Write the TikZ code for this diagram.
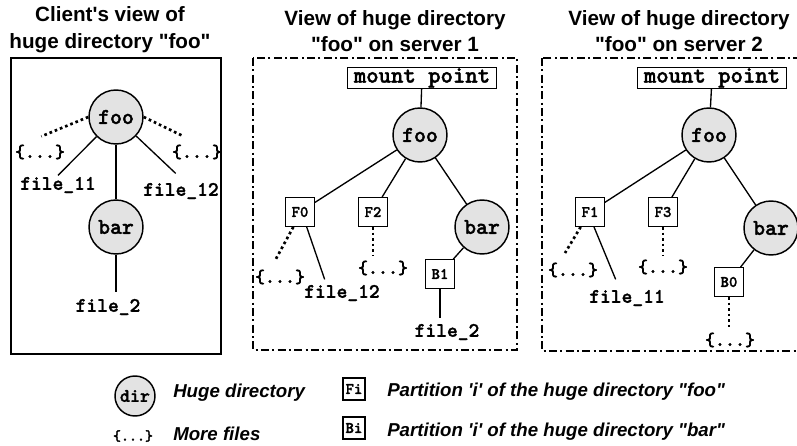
\documentclass[tikz,border=0pt]{standalone}
\usepackage{fontspec}
\setmainfont{Liberation Sans}
\newfontfamily\cour{lmmonolt10-bold.otf}[FakeBold=1.6]
\usetikzlibrary{calc}
\tikzset{
  dirnode/.style={circle, draw, line width=1.1pt, fill=black!11, minimum size=40.5pt, inner sep=0pt, font=\cour\fontsize{17}{17}\selectfont},
  partbox/.style={rectangle, draw, line width=0.9pt, fill=white, minimum size=21.5pt, inner sep=0pt, font=\cour\fontsize{12}{12}\selectfont},
  mpbox/.style={rectangle, draw, line width=1.1pt, minimum width=111.75pt, minimum height=15.5pt, inner sep=0pt, font=\cour\fontsize{17.7}{17.7}\selectfont},
  fname/.style={inner sep=1pt, font=\cour\fontsize{15.4}{15.4}\selectfont},
  morefiles/.style={inner sep=1pt, font=\cour\fontsize{14.3}{14.3}\selectfont},
  edge/.style={line width=1pt},
  dotedge/.style={line width=2pt, dash pattern=on 2pt off 2.2pt},
  paneltitle/.style={align=center, inner sep=0pt, font=\bfseries\fontsize{15.5}{20}\selectfont},
  solidpanel/.style={draw, line width=1.4pt},
  dashpanel/.style={draw, line width=1.2pt, dash pattern=on 6pt off 2.5pt on 1.5pt off 2.5pt},
  legtext/.style={anchor=west, inner sep=0pt, font=\bfseries\itshape\fontsize{14}{14}\selectfont},
}
\begin{document}
\begin{tikzpicture}[x=0.75pt, y=-0.75pt]
\useasboundingbox (0,0) rectangle (797,446);
\clip (0,0) rectangle (797,446);
\fill[white] (0,0) rectangle (797,446);

% ---------- panel 1 ----------
\node[paneltitle] (t1) at (110,30) {Client\textquotesingle s view of\\huge directory \textquotedbl foo\textquotedbl};
\path[solidpanel] (11,58) rectangle (221,354);
\node[dirnode] (foo1) at (116,117) {foo};
\node[dirnode] (bar1) at (116,227) {bar};
\node[morefiles] (m1a) at (40,152) {\{...\}};
\node[morefiles] (m1b) at (197,152) {\{...\}};
\node[fname] (f11) at (58,185) {file\_11};
\node[fname] (f12) at (181,191) {file\_12};
\node[fname] (f2a) at (108,307) {file\_2};
\draw[dotedge] (foo1.west) -- ([yshift=5pt,xshift=1pt]m1a.north);
\draw[dotedge] (foo1.east) -- ([yshift=5pt,xshift=-10pt]m1b.north);
\draw[edge] (foo1) -- (f11.north);
\draw[edge] (foo1) -- ([yshift=6pt,xshift=-4pt]f12.north);
\draw[edge] (foo1) -- (bar1);
\draw[edge] (bar1) -- ($(bar1 |- f2a.north)+(0,-5)$);

% ---------- panel 2 ----------
\node[paneltitle] (t2) at (395,31) {View of huge directory\\\textquotedbl foo\textquotedbl\ on server 1};
\path[dashpanel] (253,58) rectangle (517,350);
\node[mpbox] (mp2) at (422,78) {mount point};
\node[dirnode] (foo2) at (420,135) {foo};
\node[partbox] (F0) at (300,212) {F0};
\node[partbox] (F2) at (373,212) {F2};
\node[dirnode] (bar2) at (482,227) {bar};
\node[partbox] (B1) at (440,274) {B1};
\node[morefiles] (m2a) at (280,277) {\{...\}};
\node[fname] (fl12) at (342,293) {file\_12};
\node[morefiles] (m2b) at (383,268) {\{...\}};
\node[fname] (f2b) at (447,332) {file\_2};
\draw[edge] (mp2) -- (foo2);
\draw[edge] (foo2) -- (F0);
\draw[edge] (foo2) -- (F2);
\draw[edge] (foo2) -- (bar2);
\draw[edge] (bar2) -- (B1);
\draw[edge] (B1) -- ($(B1 |- f2b.north)+(0,-4)$);
\draw[dotedge] ([xshift=-5pt]F0.south) -- ([yshift=6pt,xshift=-3.5pt]m2a.north);
\draw[edge] ([xshift=5pt]F0.south) -- ($(fl12.north west)+(22,-4)$);
\draw[dotedge] (F2.south) -- ($(F2 |- m2b.north)+(0,-3)$);

% ---------- panel 3 ----------
\node[paneltitle] (t3) at (679,31) {View of huge directory\\\textquotedbl foo\textquotedbl\ on server 2};
\path[dashpanel] (542,58) rectangle (812,351);
\node[mpbox] (mp3) at (712,78) {mount point};
\node[dirnode] (foo3) at (709,135) {foo};
\node[partbox] (F1) at (590,212) {F1};
\node[partbox] (F3) at (663,212) {F3};
\node[dirnode] (bar3) at (771,228) {bar};
\node[partbox] (B0) at (729,282) {B0};
\node[morefiles] (m3a) at (573,270) {\{...\}};
\node[fname] (fl11) at (627,298) {file\_11};
\node[morefiles] (m3b) at (663,267) {\{...\}};
\node[morefiles] (m3c) at (730,340) {\{...\}};
\draw[edge] (mp3) -- (foo3);
\draw[edge] (foo3) -- (F1);
\draw[edge] (foo3) -- (F3);
\draw[edge] (foo3) -- (bar3);
\draw[edge] (bar3) -- (B0);
\draw[dotedge] ([xshift=-7pt]F1.south) -- ([yshift=6pt,xshift=-6pt]m3a.north);
\draw[edge] ([xshift=3pt]F1.south) -- ($(fl11.north west)+(28,-9)$);
\draw[dotedge] (F3.south) -- ($(F3 |- m3b.north)+(0,-3)$);
\draw[dotedge] (B0.south) -- ($(B0 |- m3c.north)+(0,-4)$);

% ---------- legend ----------
\node[dirnode, minimum size=30pt, font=\cour\fontsize{14.3}{14.3}\selectfont] (ldir) at (135,396) {dir};
\node[legtext] (ldirt) at (173,393) {Huge directory};
\node[morefiles, font=\cour\fontsize{11.4}{11.4}\selectfont] (lmore) at (133,436) {\{...\}};
\node[legtext] (lmoret) at (173,434) {More files};
\node[partbox, minimum size=16.5pt] (lF) at (354,389) {Fi};
\node[legtext] (lFt) at (387,392) {Partition \textquotesingle i\textquotesingle\ of the huge directory \textquotedbl foo\textquotedbl};
\node[partbox, minimum size=16.5pt] (lB) at (354,428) {Bi};
\node[legtext] (lBt) at (387,432) {Partition \textquotesingle i\textquotesingle\ of the huge directory \textquotedbl bar\textquotedbl};
\end{tikzpicture}
\end{document}
